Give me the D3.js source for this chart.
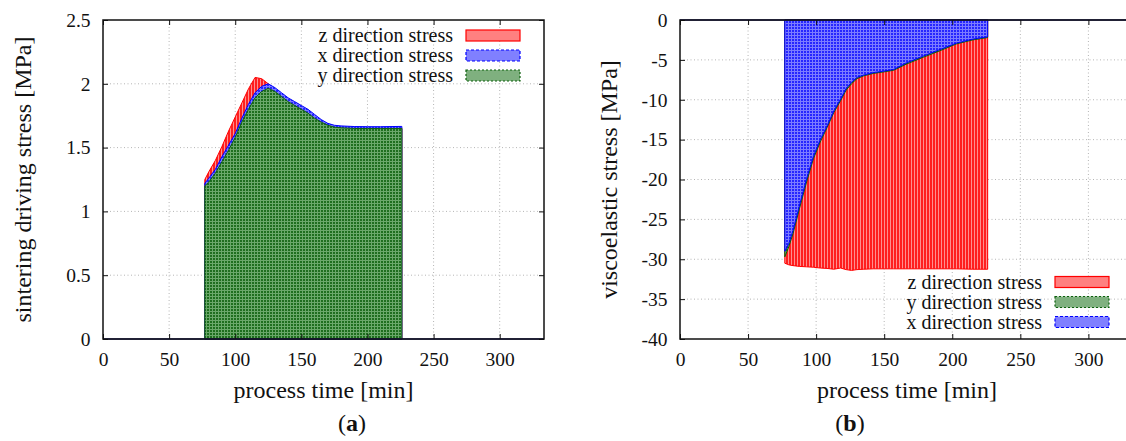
<!DOCTYPE html>
<html>
<head>
<meta charset="utf-8">
<script src="https://cdn.jsdelivr.net/npm/d3@7"></script>
<style>
  body { margin: 0; background: #fff; }
  svg { display: block; font-family: "Liberation Serif", "Times New Roman", serif; }
</style>
</head>
<body>
<svg id="chart" width="1126" height="441"></svg>
<script>
// ---- data, panel (a): sintering driving stress [MPa]
var timeA = [77, 80, 85, 90, 95, 100, 105, 110, 115, 120, 125, 130, 135, 140, 145, 150, 155, 160, 165, 170, 175, 180, 190, 200, 210, 226];
var zStressA = [1.25, 1.31, 1.40, 1.51, 1.63, 1.74, 1.85, 1.96, 2.05, 2.04, 2.00, 1.95, 1.90, 1.86, 1.83, 1.80, 1.77, 1.73, 1.70, 1.675, 1.66, 1.655, 1.65, 1.65, 1.65, 1.65];
var xStressA = [1.22, 1.26, 1.33, 1.43, 1.52, 1.61, 1.73, 1.84, 1.93, 1.98, 2.00, 1.97, 1.93, 1.89, 1.86, 1.83, 1.80, 1.76, 1.72, 1.69, 1.675, 1.67, 1.665, 1.664, 1.664, 1.666];
var yStressA = [1.20, 1.23, 1.30, 1.39, 1.48, 1.58, 1.70, 1.80, 1.89, 1.94, 1.965, 1.94, 1.90, 1.86, 1.83, 1.80, 1.77, 1.73, 1.70, 1.675, 1.66, 1.655, 1.65, 1.65, 1.65, 1.65];

// ---- data, panel (b): viscoelastic stress [MPa]
var timeB = [77, 80, 83, 88, 93, 98, 103, 108, 113, 118, 122, 126, 130, 135, 142, 150, 157, 166, 179, 191, 203, 215, 226];
var zStressB = [-30.5, -30.7, -30.8, -30.9, -30.95, -31.0, -31.1, -31.15, -31.25, -31.1, -31.3, -31.4, -31.3, -31.25, -31.2, -31.2, -31.2, -31.2, -31.2, -31.2, -31.2, -31.25, -31.25];
var yStressB = [-29.7, -28.4, -26.8, -23.5, -20.3, -17.4, -15.3, -13.5, -11.6, -10.1, -8.8, -8.0, -7.35, -7.0, -6.7, -6.5, -6.3, -5.55, -4.65, -3.85, -3.0, -2.5, -2.2];
var xStressB = [-29.0, -28.0, -26.4, -23.1, -19.9, -17.1, -15.0, -13.3, -11.4, -9.9, -8.6, -7.8, -7.2, -6.9, -6.6, -6.4, -6.2, -5.4, -4.5, -3.7, -2.9, -2.4, -2.1];

var timeTicks = [0, 50, 100, 150, 200, 250, 300];
var ticksA = [0, 0.5, 1, 1.5, 2, 2.5];
var ticksB = [0, -5, -10, -15, -20, -25, -30, -35, -40];

var serif = "'Liberation Serif', 'Times New Roman', serif";
var svg = d3.select("#chart");
var defs = svg.append("defs");

// fill patterns, roughly like gnuplot's pattern fills
function makePattern(id, bg, fg, w, h, marks) {
  var p = defs.append("pattern").attr("id", id)
    .attr("patternUnits", "userSpaceOnUse").attr("width", w).attr("height", h);
  p.append("rect").attr("width", w).attr("height", h).attr("fill", bg);
  marks.forEach(function(m) {
    p.append("rect").attr("x", m[0]).attr("y", m[1]).attr("width", m[2]).attr("height", m[3]).attr("fill", fg);
  });
}
makePattern("patZ", "#ff1f1f", "#ff8f8f", 3, 4, [[2, 0, 1, 4]]);
makePattern("patX", "#7c7cff", "#2626ff", 3, 3, [[0, 0, 2, 2]]);
makePattern("patY", "#6aa86a", "#1e6e1e", 3, 3, [[0, 0, 2, 2]]);

var styles = {
  z: { pat: "patZ", swatch: "#ff8080", stroke: "#ff0000", dash: null },
  x: { pat: "patX", swatch: "#8080ff", stroke: "#0000ff", dash: "3,2" },
  y: { pat: "patY", swatch: "#7fb07f", stroke: "#0d600d", dash: "2,2" }
};

var plotTop = 20, plotBottom = 339;

function panel(o) {
  var g = svg.append("g");
  var x = d3.scaleLinear().domain([0, 333.5]).range([o.left, o.right]);
  var y = d3.scaleLinear().domain(o.yDomain).range([plotBottom, plotTop]);

  // grid
  var grid = g.append("g").attr("stroke", "#b5b5b5").attr("stroke-dasharray", "1,2.5").attr("stroke-width", 1);
  grid.selectAll(".gx").data(timeTicks.slice(1)).join("line")
    .attr("x1", x).attr("x2", x).attr("y1", plotTop).attr("y2", plotBottom);
  grid.selectAll(".gy").data(o.yTicks.slice(1, -1)).join("line")
    .attr("x1", o.left).attr("x2", o.right).attr("y1", y).attr("y2", y);

  // filled curves, drawn in legend order
  o.series.forEach(function(s) {
    var st = styles[s.key];
    var area = d3.area()
      .x(function(d, i) { return x(o.time[i]); })
      .y0(y(0))
      .y1(function(d) { return y(d); });
    g.append("path").datum(s.values)
      .attr("d", area)
      .attr("fill", "url(#" + st.pat + ")")
      .attr("stroke", st.stroke)
      .attr("stroke-width", 1);
  });

  // zero line of the series outside the active time range
  g.append("line")
    .attr("x1", x(0)).attr("x2", o.right).attr("y1", y(0)).attr("y2", y(0))
    .attr("stroke", "#1c1c8a").attr("stroke-width", 1.5);

  // axes (gnuplot style: ticks inward, mirrored)
  var ax = g.append("g").attr("transform", "translate(0," + plotBottom + ")")
    .call(d3.axisBottom(x).tickValues(timeTicks).tickSizeInner(-5).tickSizeOuter(0).tickPadding(13).tickFormat(String));
  var at = g.append("g").attr("transform", "translate(0," + plotTop + ")")
    .call(d3.axisTop(x).tickValues(timeTicks).tickSizeInner(-5).tickSizeOuter(0).tickFormat(""));
  var ay = g.append("g").attr("transform", "translate(" + o.left + ",0)")
    .call(d3.axisLeft(y).tickValues(o.yTicks).tickSizeInner(-5).tickSizeOuter(0).tickPadding(12.5).tickFormat(String));
  var ar = g.append("g").attr("transform", "translate(" + o.right + ",0)")
    .call(d3.axisRight(y).tickValues(o.yTicks).tickSizeInner(-5).tickSizeOuter(0).tickFormat(""));
  [ax, at, ay, ar].forEach(function(a) {
    a.attr("font-family", serif).attr("font-size", 19.5);
    a.select(".domain").remove();
    a.selectAll("line").attr("stroke", "#111");
    a.selectAll("text").style("font-family", serif).style("font-size", "19.5px").attr("fill", "#111");
  });

  // frame
  g.append("rect")
    .attr("x", o.left).attr("y", plotTop).attr("width", o.right - o.left).attr("height", plotBottom - plotTop)
    .attr("fill", "none").attr("stroke", "#111").attr("stroke-width", 1.5);

  // legend
  var lg = g.append("g");
  o.series.forEach(function(s, i) {
    var st = styles[s.key];
    var by = o.legendY + i * 20;
    lg.append("text").attr("x", o.legendX).attr("y", by)
      .attr("text-anchor", "end").attr("font-size", "20px").attr("fill", "#111")
      .text(s.label);
    lg.append("rect").attr("x", o.legendX + 13).attr("y", by - 12)
      .attr("width", 54).attr("height", 11)
      .attr("fill", st.swatch).attr("stroke", st.stroke).attr("stroke-width", 1.2)
      .attr("stroke-dasharray", st.dash);
  });

  // axis titles
  g.append("text").attr("x", (o.left + o.right) / 2).attr("y", 398)
    .attr("text-anchor", "middle").attr("font-size", "24px").attr("fill", "#111")
    .text("process time [min]");
  g.append("text").attr("transform", "translate(" + o.yTitleX + "," + ((plotTop + plotBottom) / 2) + ") rotate(-90)")
    .attr("text-anchor", "middle").attr("font-size", "24px").attr("fill", "#111")
    .text(o.yTitle);

  // panel label
  var lab = g.append("text").attr("x", o.tagX).attr("y", 431)
    .attr("text-anchor", "middle").attr("font-size", "24px").attr("fill", "#111");
  lab.append("tspan").text("(");
  lab.append("tspan").attr("font-weight", "bold").text(o.tag);
  lab.append("tspan").text(")");
}

panel({
  left: 103, right: 544,
  yDomain: [0, 2.5], yTicks: ticksA,
  time: timeA,
  series: [
    { key: "z", label: "z direction stress", values: zStressA },
    { key: "x", label: "x direction stress", values: xStressA },
    { key: "y", label: "y direction stress", values: yStressA }
  ],
  legendX: 453, legendY: 42,
  yTitle: "sintering driving stress [MPa]", yTitleX: 30.5,
  tag: "a", tagX: 352
});

panel({
  left: 680, right: 1134,
  yDomain: [-40, 0], yTicks: ticksB,
  time: timeB,
  series: [
    { key: "z", label: "z direction stress", values: zStressB },
    { key: "y", label: "y direction stress", values: yStressB },
    { key: "x", label: "x direction stress", values: xStressB }
  ],
  legendX: 1042, legendY: 288.5,
  yTitle: "viscoelastic stress [MPa]", yTitleX: 617,
  tag: "b", tagX: 850
});
</script>
</body>
</html>
